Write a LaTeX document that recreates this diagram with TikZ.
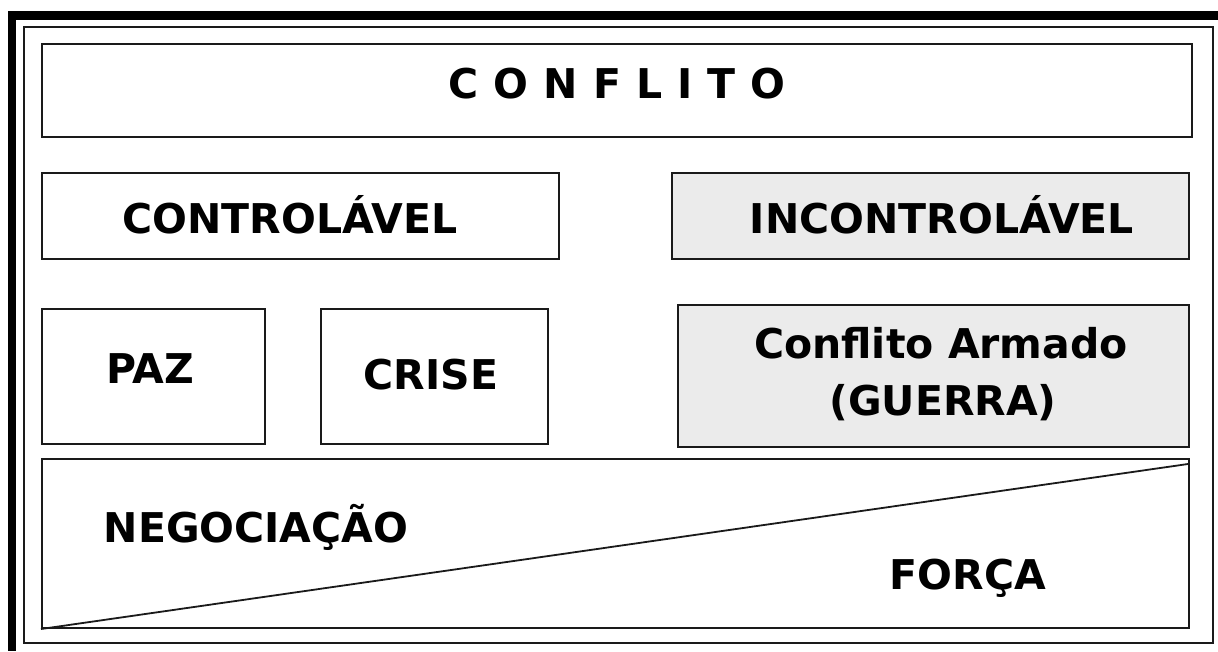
\documentclass[tikz,border=0pt]{standalone}
\usepackage{fontspec}
\setmainfont{DejaVu Sans}
\definecolor{boxgray}{HTML}{EBEBEB}
\definecolor{edge}{HTML}{1A1A1A}
\newcommand\lgap{\hspace{15pt}}
\begin{document}
\begin{tikzpicture}[x=1pt,y=-1pt,
  box/.style={draw=edge,line width=2pt,inner sep=0pt,anchor=north west},
  graybox/.style={box,fill=boxgray},
  lbl/.style={inner sep=0pt,anchor=base,font=\fontsize{41}{49}\selectfont\bfseries}]
\useasboundingbox (0,0) rectangle (1218,651);
% outer thick frame
\fill[black] (8,11) rectangle (1218,20);
\fill[black] (8,11) rectangle (16,651);
\draw[edge,line width=1.5pt] (24,27) rectangle (1213,643);
% boxes
\node[box,minimum width=1150pt,minimum height=93pt] (conf) at (41,43) {};
\node[box,minimum width=517pt,minimum height=86pt] (ctrl) at (41,172) {};
\node[graybox,minimum width=517pt,minimum height=86pt] (inc) at (671,172) {};
\node[box,minimum width=223pt,minimum height=135pt] (paz) at (41,308) {};
\node[box,minimum width=227pt,minimum height=135pt] (crise) at (320,308) {};
\node[graybox,minimum width=511pt,minimum height=142pt] (arm) at (677,304) {};
\node[box,minimum width=1147pt,minimum height=169pt] (neg) at (41,458) {};
\coordinate (diagEnd) at (1188,464);
\draw[edge,line width=1.8pt] (neg.south west) -- (diagEnd);
% labels
\node[lbl] (tconf) at (617,98) {C\lgap O\lgap N\lgap F\lgap L\lgap I\lgap T\lgap O};
\node[lbl] (tctrl) at (290,233) {CONTROLÁVEL};
\node[lbl] (tinc) at (942,233) {INCONTROLÁVEL};
\node[lbl] (tpaz) at (150,383) {PAZ};
\node[lbl] (tcrise) at (431,389) {CRISE};
\node[lbl] (tarm1) at (941,358) {Conflito Armado};
\node[lbl] (tarm2) at (943,415) {(GUERRA)};
\node[lbl] (tneg) at (256,542) {NEGOCIAÇÃO};
\node[lbl] (tforca) at (968,589) {FORÇA};
\end{tikzpicture}
\end{document}
